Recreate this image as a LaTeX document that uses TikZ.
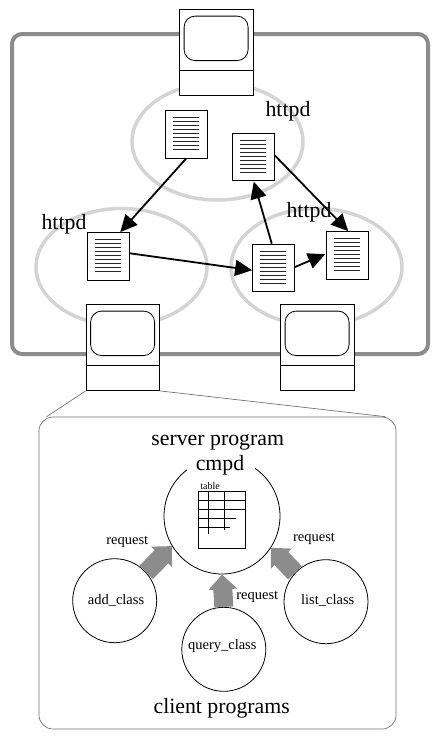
\documentclass[tikz,border=0pt]{standalone}
\usepackage{fontspec}
\setmainfont{Liberation Serif}
\usetikzlibrary{arrows.meta,calc,shapes.geometric}
\tikzset{
  lab/.style={inner sep=0pt},
  biglab/.style={lab,font=\fontsize{21.8}{22}\selectfont},
  midlab/.style={lab,font=\fontsize{14.5}{14.5}\selectfont},
  monbox/.style={draw=black,fill=white,line width=.8pt,minimum width=73.5pt,minimum height=86pt,inner sep=0pt},
  docbox/.style={draw=black,fill=white,line width=.8pt,minimum width=41.5pt,minimum height=47.5pt,inner sep=0pt},
  docline/.style={black!85,line width=.8pt},
  flow/.style={-{Triangle[length=17pt,width=16pt]},line width=1.8pt,black},
  host/.style={draw=black!17,line width=3.5pt,ellipse,minimum width=171pt,minimum height=117pt,inner sep=0pt},
  proc/.style={draw=black,circle,line width=.8pt,inner sep=0pt,minimum size=84pt},
  req/.style={-{Triangle[length=15pt,width=28pt]},line width=19pt,black!45},
  tableline/.style={line width=.8pt,black}
}
\newcommand{\monitor}[3]{%
  \node[monbox] (#1) at (#2,#3) {};
  \begin{scope}[shift={(#1.north west)}]
    \draw[line width=.8pt,rounded corners=11pt] (5,7) rectangle (69,51.5);
    \draw[line width=.8pt] (0,61) -- (73.5,61);
  \end{scope}}
\newcommand{\docnode}[3]{%
  \node[docbox] (#1) at (#2,#3) {};
  \begin{scope}[shift={(#1.north west)}]
    \foreach \k in {0,...,8} {\draw[docline] (8,7.5+4*\k) -- (33.5,7.5+4*\k);}
  \end{scope}}
\begin{document}
\begin{tikzpicture}[x=1pt,y=-1pt]
\useasboundingbox (0,0) rectangle (440,740);
\fill[white] (0,0) rectangle (440,740);
% network
\node[draw=black!45,line width=4pt,rounded corners=10pt,minimum width=416pt,minimum height=320pt,inner sep=0pt] (net) at (220,194) {};
\node[host] (e1) at (217.5,141.5) {};
\node[host] (e2) at (121.5,267) {};
\node[host] (e3) at (316.5,267) {};
\monitor{m1}{216.25}{52.5}
\monitor{m2}{122.75}{347.5}
\monitor{m3}{317.25}{347.5}
\docnode{d1}{186.25}{134.25}
\docnode{d2}{253.25}{157}
\docnode{d3}{108.25}{256.25}
\docnode{d4}{273.25}{267.75}
\docnode{d5}{347.25}{255.25}
\draw[flow] (d1.south) -- ($(d3.north)+(12,0)$);
\draw[flow] ($(d3.east)+(0,-3)$) -- ($(d4.west)+(0,2.5)$);
\draw[flow] ($(d4.east)+(0,-0.5)$) -- ($(d5.west)+(-1,-1)$);
\draw[flow] ($(d4.north)+(-1.5,0)$) -- ($(d2.south)+(0.5,0.5)$);
\draw[flow] ($(d2.east)+(0,-2)$) -- ($(d5.north)+(1,0)$);
\node[biglab] (h1) at (288,111) {httpd};
\node[biglab] (h2) at (64,224) {httpd};
\node[biglab] (h3) at (309,212) {httpd};
% detail
\node[draw=black!55,line width=.7pt,rounded corners=14pt,minimum width=357pt,minimum height=312pt,inner sep=0pt] (detail) at (217.5,573) {};
\draw[black!55,line width=.7pt] (m2.south west) -- ($(detail.north west)+(8,0)$);
\draw[black!55,line width=.7pt] (m2.south east) -- ($(detail.north east)+(-11,0)$);
\node[proc,minimum size=116pt] (server) at (222,516) {};
\node[biglab,fill=white,minimum width=68pt,minimum height=24pt] (cmpd) at (220.5,461) {};
\node[biglab] (cmpdtext) at (220,465) {cmpd};
\node[biglab] (sp) at (217.7,442) {server program};
\node[lab,font=\fontsize{10}{10}\selectfont] (tbl) at (210,485.7) {table};
\node[draw=black,line width=.8pt,minimum width=47.7pt,minimum height=56.3pt,inner sep=0pt] (tb) at (221.85,519.85) {};
\begin{scope}[shift={(tb.north west)}]
  \draw[tableline] (0,9) -- (47.7,9);
  \draw[tableline] (0,17.6) -- (47.7,17.6);
  \draw[tableline] (0,26.6) -- (38.7,26.6);
  \draw[tableline] (0,35.6) -- (32,35.6);
  \draw[tableline] (11,0) -- (11,43);
  \draw[tableline] (27,0) -- (27,39);
\end{scope}
\node[proc] (add) at (114.7,600.7) {};
\node[proc] (query) at (223.8,649.3) {};
\node[proc] (list) at (326,601.7) {};
\node[midlab] at (add.center) [xshift=1.3pt] {add\_class};
\node[midlab] at (query.center) [yshift=3.3pt,xshift=-1.5pt] {query\_class};
\node[midlab] at (list.center) [xshift=1.7pt,yshift=1pt] {list\_class};
\draw[req] (add.42.6) -- (server.211.4);
\draw[req] (query.north) -- (server.south);
\draw[req] (list.137.5) -- (server.-33.6);
\node[midlab] (r1) at (127.3,542) {request};
\node[midlab] (r2) at (314,539) {request};
\node[midlab] (r3) at (257.3,597.3) {request};
\node[biglab] (cp) at (221.7,708.3) {client programs};
\end{tikzpicture}
\end{document}
